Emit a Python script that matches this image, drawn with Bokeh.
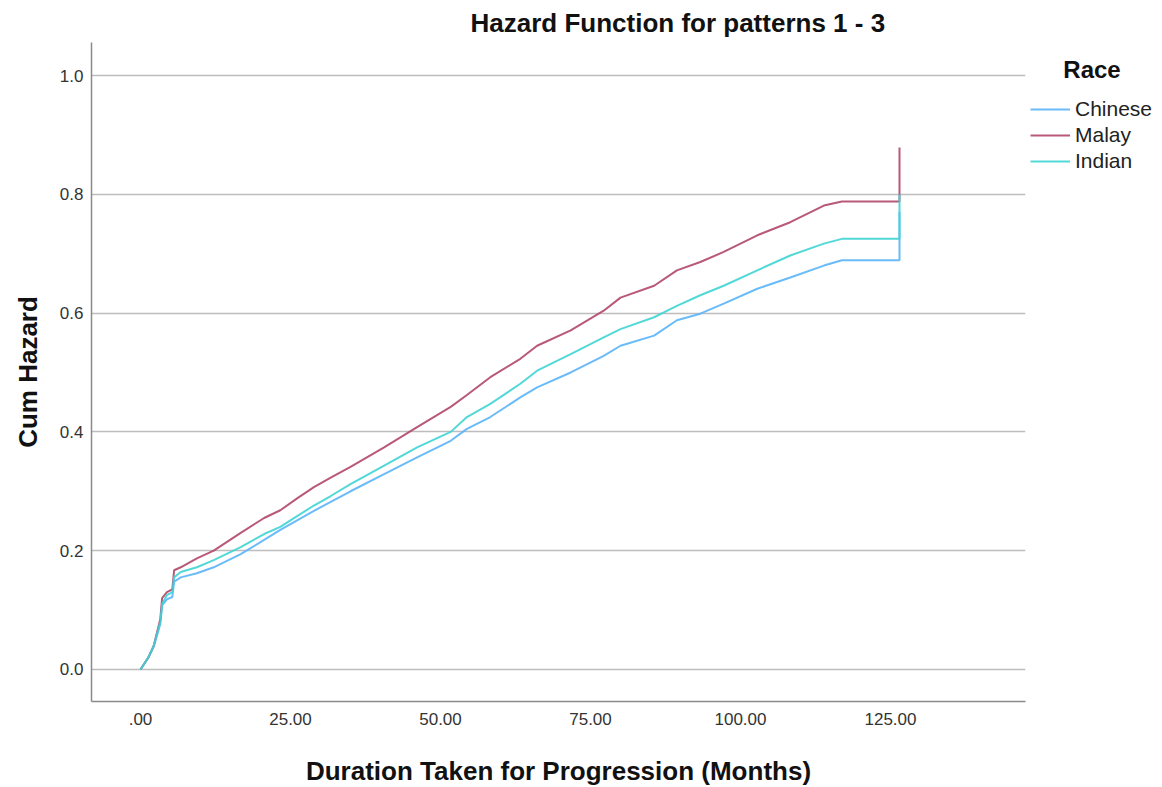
from bokeh.plotting import figure
from bokeh.models import Legend, LegendItem, FixedTicker, Range1d
from bokeh.embed import file_html
from bokeh.resources import INLINE

# ---- data ----
months = [0, 1.3, 2.2, 3.3, 3.6, 4.4, 5.3, 5.6, 6.7, 9.4, 12.2, 16.7, 20.6, 23.3,
          26.1, 28.9, 31.7, 35, 40.6, 46.1, 51.7, 54.4, 58.3, 63.3, 66.1, 71.7,
          77.2, 80, 85.6, 89.4, 93.3, 97.2, 102.8, 108.3, 113.9, 116.9, 126.5]
chinese = [0, 0.02, 0.038, 0.077, 0.108, 0.118, 0.122, 0.148, 0.155, 0.162, 0.172,
           0.194, 0.218, 0.235, 0.251, 0.267, 0.282, 0.300, 0.329, 0.357, 0.385,
           0.405, 0.425, 0.458, 0.475, 0.500, 0.528, 0.545, 0.562, 0.588, 0.599,
           0.616, 0.641, 0.660, 0.680, 0.689, 0.689]
malay = [0, 0.02, 0.04, 0.085, 0.12, 0.13, 0.135, 0.167, 0.172, 0.187, 0.200,
         0.230, 0.255, 0.268, 0.288, 0.307, 0.323, 0.341, 0.374, 0.408, 0.442,
         0.462, 0.492, 0.523, 0.545, 0.571, 0.604, 0.626, 0.646, 0.672, 0.686,
         0.703, 0.731, 0.753, 0.781, 0.788, 0.788]
indian = [0, 0.02, 0.04, 0.08, 0.11, 0.125, 0.13, 0.155, 0.164, 0.172, 0.184,
          0.206, 0.228, 0.240, 0.258, 0.276, 0.292, 0.312, 0.343, 0.374, 0.400,
          0.425, 0.447, 0.481, 0.503, 0.531, 0.559, 0.573, 0.593, 0.612, 0.630,
          0.646, 0.672, 0.697, 0.717, 0.725, 0.725]
# final jump at the last event time
last_month = 126.5
chinese_last = 0.77
malay_last = 0.879
indian_last = 0.80

series_names = ["Chinese", "Malay", "Indian"]
series_colors = ["#5AB4F8", "#B0466C", "#40D4D4"]
legend_title = "Race"

x_ticks = [0, 25, 50, 75, 100, 125]
x_tick_labels = [".00", "25.00", "50.00", "75.00", "100.00", "125.00"]
y_ticks = [0.0, 0.2, 0.4, 0.6, 0.8, 1.0]
y_tick_labels = ["0.0", "0.2", "0.4", "0.6", "0.8", "1.0"]

FONT = "Liberation Sans"

p = figure(frame_width=934, frame_height=659,
           x_range=Range1d(-8.17, 147.5), y_range=Range1d(-0.054, 1.0556),
           output_backend="svg", toolbar_location=None,
           min_border_left=91, min_border_right=137,
           min_border_top=42, min_border_bottom=86)

p.title.text = "Hazard Function for patterns 1 - 3"
p.title.text_font = FONT
p.title.text_font_size = "26px"
p.title.text_font_style = "bold"
p.title.text_color = "#111111"
p.title.align = "left"
p.title.offset = 379
p.title.standoff = 10

p.outline_line_color = None
p.background_fill_color = "white"
p.border_fill_color = "white"

# axes
p.xaxis.ticker = FixedTicker(ticks=x_ticks)
p.xaxis.major_label_overrides = {t: l for t, l in zip(x_ticks, x_tick_labels)}
p.yaxis.ticker = FixedTicker(ticks=y_ticks)
p.yaxis.major_label_overrides = {t: l for t, l in zip(y_ticks, y_tick_labels)}
for ax in (p.xaxis, p.yaxis):
    ax.axis_line_color = "#8a8a8a"
    ax.axis_line_width = 1.5
    ax.major_tick_line_color = None
    ax.minor_tick_line_color = None
    ax.major_tick_out = 0
    ax.major_tick_in = 0
    ax.major_label_text_font = FONT
    ax.major_label_text_font_size = "17px"
    ax.major_label_text_color = "#333333"
    ax.axis_label_text_font = FONT
    ax.axis_label_text_font_size = "26px"
    ax.axis_label_text_font_style = "bold"
    ax.axis_label_text_color = "#111111"
p.xaxis.axis_label = "Duration Taken for Progression (Months)"
p.yaxis.axis_label = "Cum Hazard"
p.xaxis.major_label_standoff = 11
p.xaxis.axis_label_standoff = 28
p.yaxis.major_label_standoff = 8
p.yaxis.axis_label_standoff = 14

p.xgrid.visible = False
p.ygrid.ticker = FixedTicker(ticks=y_ticks)
p.ygrid.grid_line_color = "#bdbdbd"
p.ygrid.grid_line_width = 1.6

items = []
for name, vals, last, color in zip(series_names, [chinese, malay, indian],
                                   [chinese_last, malay_last, indian_last],
                                   series_colors):
    xs = months + [last_month]
    ys = vals + [last]
    r = p.line(xs, ys, line_color=color, line_width=2, line_alpha=0.9)
    items.append(LegendItem(label=name, renderers=[r]))

legend = Legend(items=items, location=(5, 527))
legend.title = "\u00a0\u00a0\u00a0\u00a0\u00a0" + legend_title
legend.title_text_font = FONT
legend.title_text_font_size = "24px"
legend.title_text_font_style = "bold"
legend.title_text_color = "#111111"
legend.title_standoff = 12
legend.margin = 0
legend.padding = 0
legend.border_line_color = None
legend.background_fill_alpha = 0
legend.glyph_width = 40
legend.glyph_height = 26
legend.spacing = 0
legend.label_standoff = 5
legend.label_text_font = FONT
legend.label_text_font_size = "21px"
legend.label_text_color = "#222222"
p.add_layout(legend, "right")

open("out.html", "w").write(file_html(p, INLINE))
